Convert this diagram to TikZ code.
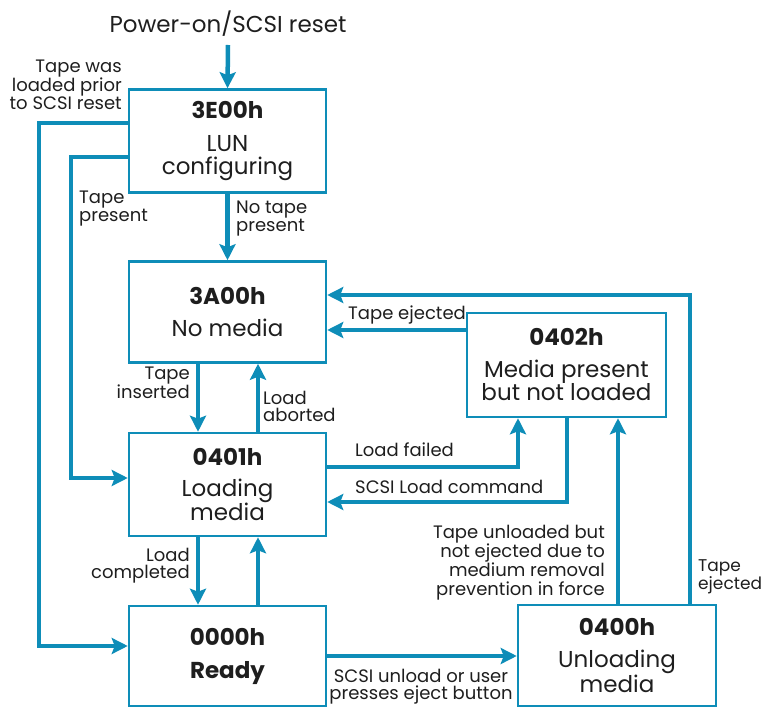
\documentclass[tikz,border=0pt]{standalone}
\usepackage{fontspec}
\setmainfont{Poppins}
\usetikzlibrary{arrows.meta}
\definecolor{flow}{RGB}{14,141,184}
\definecolor{ink}{RGB}{30,30,30}
\tikzset{
  box/.style={draw=flow, line width=2.5pt, minimum width=197pt, inner sep=0pt, align=center, text=ink,
    font=\fontsize{23}{23}\selectfont},
  arr/.style={draw=flow, line width=4.5pt, -{Stealth[length=16pt,width=16pt,inset=3pt]}},
  lbl/.style={inner sep=0pt, text=ink, font=\fontsize{18}{17}\selectfont},
}
\begin{document}
\begin{tikzpicture}[x=1pt,y=-1pt]
\path[use as bounding box] (0,0) rectangle (761,708);
% boxes
\node[box, minimum height=103pt] (lun) at (227.5,141) {\textbf{3E00h}\\[10pt]LUN\\configuring};
\node[box, minimum height=101pt] (nomedia) at (227.5,312) {\textbf{3A00h}\\[9pt]No media};
\node[box, minimum height=103pt] (loading) at (227.5,484.5) {\textbf{0401h}\\[8pt]Loading\\media};
\node[box, minimum height=100pt] (ready) at (227.5,656) {\textbf{0000h}\\[10pt]\textbf{Ready}};
\node[box, minimum width=199pt, minimum height=104pt] (mp) at (566.5,365) {\textbf{0402h}\\[9pt]Media present\\but not loaded};
\node[box, minimum width=198pt, minimum height=101pt] (unload) at (617,655.5) {\textbf{0400h}\\[9pt]Unloading\\media};
% start
\node[inner sep=0pt, text=ink, font=\fontsize{23}{23}\selectfont, anchor=base] (power) at (228,33) {Power-on/SCSI reset};
\coordinate (start) at (228,45);
% connectors
\draw[arr] (start) -- (lun.north);
\draw[arr] (lun.south) -- (nomedia.north);
\draw[arr] ([yshift=18pt]lun.west) -- ++(-89,0) |- ([yshift=10pt]ready.west);
\draw[arr] ([yshift=-16pt]lun.west) -- ++(-57,0) |- ([yshift=6.5pt]loading.west);
\draw[arr] ([xshift=-29.5pt]nomedia.south) -- ([xshift=-29.5pt]loading.north);
\draw[arr] ([xshift=30.5pt]loading.north) -- ([xshift=30.5pt]nomedia.south);
\draw[arr] ([xshift=-29.5pt]loading.south) -- ([xshift=-29.5pt]ready.north);
\draw[arr] ([xshift=30.5pt]ready.north) -- ([xshift=30.5pt]loading.south);
\draw[arr] ([yshift=17.5pt]loading.east) -| ([xshift=-48.5pt]mp.south);
\draw[arr] ([xshift=0.5pt]mp.south) |- ([yshift=-17.5pt]loading.east);
\draw[arr] ([xshift=1pt]unload.north) -- ([xshift=51.5pt]mp.south);
\draw[arr] ([xshift=73pt]unload.north) |- ([yshift=17pt]nomedia.east);
\draw[arr] ([yshift=35pt]mp.west) -- ([yshift=35pt]mp.west -| nomedia.east);
\draw[arr] (ready.east) -- (ready.east -| unload.west);
% labels (anchor = baseline of the last line)
\node[lbl, align=right, anchor=base east, font=\fontsize{18}{15}\selectfont] (l1) at (122,110) {Tape was\\loaded prior\\to SCSI reset};
\node[lbl, align=left, anchor=base west] (l2) at (79,222) {Tape\\present};
\node[lbl, align=left, anchor=base west] (l3) at (236,232) {No tape\\present};
\node[lbl, align=right, anchor=base east] (l4) at (190,399) {Tape\\inserted};
\node[lbl, align=left, anchor=base west] (l5) at (263,422) {Load\\aborted};
\node[lbl, align=right, anchor=base east] (l6) at (190,578) {Load\\completed};
\node[lbl, anchor=base west] (l7) at (355,457) {Load failed};
\node[lbl, anchor=base west] (l8) at (355,494) {SCSI Load command};
\node[lbl, anchor=base west] (l9) at (348,320) {Tape ejected};
\node[lbl, align=right, anchor=base east, font=\fontsize{18}{19}\selectfont] (l10) at (605,595) {Tape unloaded but\\not ejected due to\\medium removal\\prevention in force};
\node[lbl, align=left, anchor=base west, font=\fontsize{17}{17}\selectfont] (l11) at (698,590) {Tape\\ejected};
\node[lbl, align=center, anchor=base] (l12) at (421,699) {SCSI unload or user\\presses eject button};
\end{tikzpicture}
\end{document}
